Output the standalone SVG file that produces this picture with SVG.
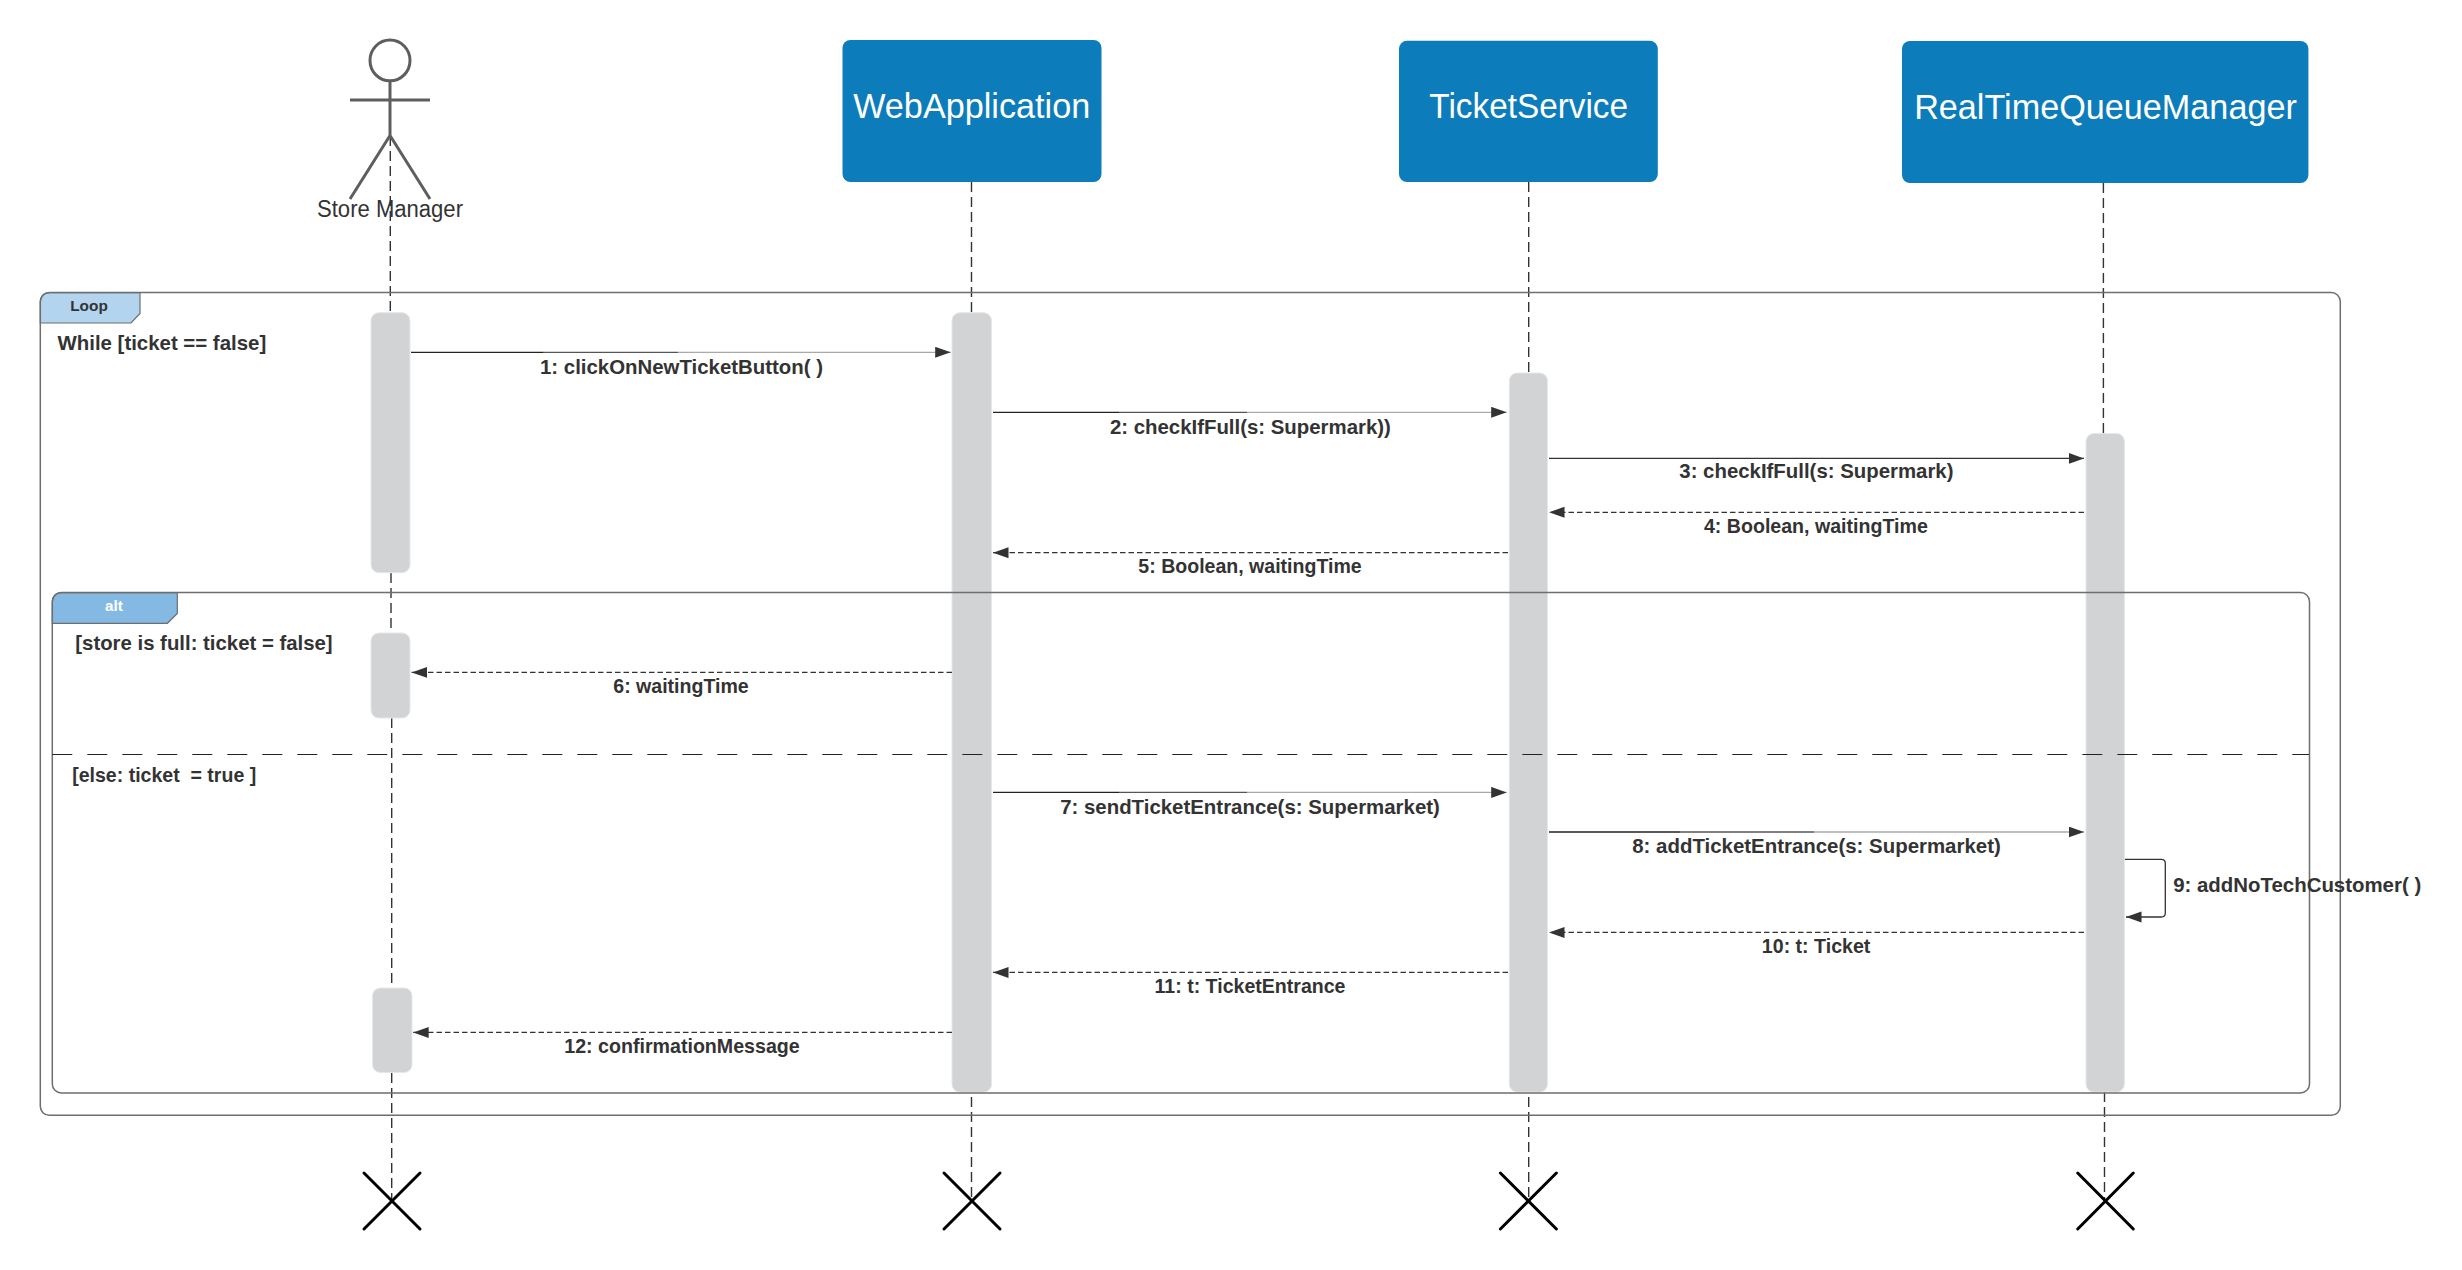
<svg xmlns="http://www.w3.org/2000/svg" width="2462" height="1270" viewBox="0 0 2462 1270">
<style>
text{font-family:"Liberation Sans",Arial,sans-serif;fill:#333}
.lbl{font-size:21px;font-weight:700;text-anchor:middle}
.guard{font-size:21px;font-weight:700}
.head{font-size:35px;fill:#fff;text-anchor:middle}
.tab{font-size:15px;font-weight:700;text-anchor:middle}
.box{fill:#0c7cba;stroke:none}
.act{fill:#d1d3d4;stroke:#e6e7e8;stroke-width:1}
.life{fill:none;stroke:#333;stroke-width:1.4;stroke-dasharray:10 5}
.frame{fill:none;stroke:#6e6e6e;stroke-width:1.5}
.x{stroke:#000;stroke-width:3;stroke-linecap:round;fill:none}
.stick{stroke:#5e5e5e;stroke-width:3;fill:none}
.msg{fill:none;stroke:#333;stroke-width:1.3;marker-end:url(#tri)}
.ret{fill:none;stroke:#333;stroke-width:1.2;stroke-dasharray:5.5 3;marker-end:url(#tri)}
</style>
<defs>
<marker id="tri" markerUnits="userSpaceOnUse" markerWidth="16" markerHeight="12" refX="15.5" refY="5.5" orient="auto">
<path d="M0 0L15.5 5.5L0 11Z" fill="#333"/>
</marker>
<linearGradient id="g1" gradientUnits="userSpaceOnUse" x1="411" y1="0" x2="951" y2="0"><stop offset="0.245" stop-color="#222"/><stop offset="0.245" stop-color="#555"/><stop offset="0.495" stop-color="#555"/><stop offset="0.495" stop-color="#aaa"/></linearGradient>
<linearGradient id="g2" gradientUnits="userSpaceOnUse" x1="993" y1="0" x2="1507" y2="0"><stop offset="0.245" stop-color="#222"/><stop offset="0.245" stop-color="#555"/><stop offset="0.495" stop-color="#555"/><stop offset="0.495" stop-color="#aaa"/></linearGradient>
<linearGradient id="g3" gradientUnits="userSpaceOnUse" x1="1549" y1="0" x2="2084" y2="0"><stop offset="0.245" stop-color="#222"/><stop offset="0.245" stop-color="#555"/><stop offset="0.495" stop-color="#555"/><stop offset="0.495" stop-color="#aaa"/></linearGradient>
</defs>
<rect width="2462" height="1270" fill="#fff"/>

<g id="lifelines">
<path class="life" d="M390.3 136V312"/>
<path class="life" d="M391 573V633"/>
<path class="life" d="M391.7 718V988"/>
<path class="life" d="M391.7 1073V1201"/>
<path class="life" d="M971.5 182V1201"/>
<path class="life" d="M1528.7 182V1201"/>
<path class="life" d="M2103.4 183V433"/>
<path class="life" d="M2104.5 1092V1201"/>
</g>

<g id="activations">
<rect class="act" x="371" y="312.7" width="39" height="260" rx="8"/>
<rect class="act" x="371" y="633" width="39" height="85" rx="8"/>
<rect class="act" x="372.5" y="988" width="39.5" height="84.5" rx="8"/>
<rect class="act" x="952" y="312.7" width="39.5" height="779.5" rx="8"/>
<rect class="act" x="1509.3" y="373" width="38.2" height="719" rx="8"/>
<rect class="act" x="2086" y="433.5" width="38.4" height="658.5" rx="8"/>
</g>

<g id="loop-frame">
<path d="M40.3 323V302.6Q40.3 292.6 50.3 292.6H140V313.5L131 323Z" fill="#b3d4ee" stroke="#6e6e6e" stroke-width="1.2"/>
<rect class="frame" x="40.3" y="292.6" width="2300" height="822.7" rx="9"/>
<text class="tab" x="89" y="311" textLength="37.6" lengthAdjust="spacingAndGlyphs">Loop</text>
<text class="guard" x="57.5" y="350" textLength="208.7" lengthAdjust="spacingAndGlyphs">While [ticket == false]</text>
</g>

<g id="alt-frame">
<path d="M52.3 623.3V602.6Q52.3 592.6 62.3 592.6H177.3V613.5L167.4 623.3Z" fill="#83b9e3" stroke="#6e6e6e" stroke-width="1.2"/>
<rect class="frame" x="52.3" y="592.6" width="2257.2" height="500.3" rx="9"/>
<path d="M52.3 754.5H2309" fill="none" stroke="#222" stroke-width="1" stroke-dasharray="20 15"/>
<text class="tab" x="114" y="611" style="fill:#fff" textLength="17.8" lengthAdjust="spacingAndGlyphs">alt</text>
<text class="guard" x="75.3" y="650.4" textLength="257.3" lengthAdjust="spacingAndGlyphs">[store is full: ticket = false]</text>
<text class="guard" x="72.2" y="781.8" xml:space="preserve" textLength="184" lengthAdjust="spacingAndGlyphs">[else: ticket  = true ]</text>
</g>

<g id="actor-store-manager">
<ellipse class="stick" cx="390" cy="60.4" rx="20" ry="20.4"/>
<path class="stick" d="M390 81V135.5M350 100H430M350 199L390 135.5L430 199"/>
<text x="390" y="217" font-size="23" text-anchor="middle" textLength="146" lengthAdjust="spacingAndGlyphs">Store Manager</text>
</g>

<g id="node-webapplication">
<rect class="box" x="842.5" y="40" width="259" height="142" rx="8"/>
<text class="head" x="971.7" y="118" textLength="237" lengthAdjust="spacingAndGlyphs">WebApplication</text>
</g>
<g id="node-ticketservice">
<rect class="box" x="1399" y="40.8" width="258.8" height="141.2" rx="8"/>
<text class="head" x="1528.7" y="118" textLength="198.7" lengthAdjust="spacingAndGlyphs">TicketService</text>
</g>
<g id="node-realtimequeuemanager">
<rect class="box" x="1902" y="41" width="406.4" height="142" rx="8"/>
<text class="head" x="2105.5" y="119" textLength="382.7" lengthAdjust="spacingAndGlyphs">RealTimeQueueManager</text>
</g>

<g id="connectors">
<path class="msg" style="stroke:url(#g1)" d="M411 352.3H950.7"/>
<path class="msg" style="stroke:url(#g2)" d="M993 412.3H1506.7"/>
<path class="msg" d="M1549 458.4H2084"/>
<path class="ret" d="M2084 512.3H1549"/>
<path class="ret" d="M1508 552.7H993"/>
<path class="ret" d="M952 672.4H411.6"/>
<path class="msg" style="stroke:url(#g2)" d="M993 792.4H1506.7"/>
<path class="msg" style="stroke:url(#g3)" d="M1549 832H2084"/>
<path class="msg" d="M2124.9 859.4H2161.3Q2165.3 859.4 2165.3 863.4V913Q2165.3 917 2161.3 917H2126"/>
<path class="ret" d="M2084 932.4H1549"/>
<path class="ret" d="M1508 972.4H993"/>
<path class="ret" d="M952 1032.4H413.2"/>
</g>

<g id="connector-labels">
<text class="lbl" x="681.5" y="373.5" textLength="283" lengthAdjust="spacingAndGlyphs">1: clickOnNewTicketButton( )</text>
<text class="lbl" x="1250.4" y="433.5" textLength="280.9" lengthAdjust="spacingAndGlyphs">2: checkIfFull(s: Supermark))</text>
<text class="lbl" x="1816.4" y="478.4" textLength="274.2" lengthAdjust="spacingAndGlyphs">3: checkIfFull(s: Supermark)</text>
<text class="lbl" x="1815.9" y="532.6" textLength="223.9" lengthAdjust="spacingAndGlyphs">4: Boolean, waitingTime</text>
<text class="lbl" x="1250" y="573" textLength="223.3" lengthAdjust="spacingAndGlyphs">5: Boolean, waitingTime</text>
<text class="lbl" x="681" y="692.9" textLength="135.5" lengthAdjust="spacingAndGlyphs">6: waitingTime</text>
<text class="lbl" x="1250" y="813.7" textLength="379.7" lengthAdjust="spacingAndGlyphs">7: sendTicketEntrance(s: Supermarket)</text>
<text class="lbl" x="1816.5" y="853.3" textLength="368.5" lengthAdjust="spacingAndGlyphs">8: addTicketEntrance(s: Supermarket)</text>
<text class="guard" x="2173.2" y="892" textLength="248" lengthAdjust="spacingAndGlyphs">9: addNoTechCustomer( )</text>
<text class="lbl" x="1816.1" y="952.9" textLength="108.5" lengthAdjust="spacingAndGlyphs">10: t: Ticket</text>
<text class="lbl" x="1250" y="992.9" textLength="190.9" lengthAdjust="spacingAndGlyphs">11: t: TicketEntrance</text>
<text class="lbl" x="682" y="1052.9" textLength="235.4" lengthAdjust="spacingAndGlyphs">12: confirmationMessage</text>
</g>

<g id="destroy-marks">
<path class="x" d="M364 1173L420 1229M420 1173L364 1229"/>
<path class="x" d="M944 1173L1000 1229M1000 1173L944 1229"/>
<path class="x" d="M1500.4 1173L1556.4 1229M1556.4 1173L1500.4 1229"/>
<path class="x" d="M2077.7 1173L2133.3 1229M2133.3 1173L2077.7 1229"/>
</g>
</svg>
